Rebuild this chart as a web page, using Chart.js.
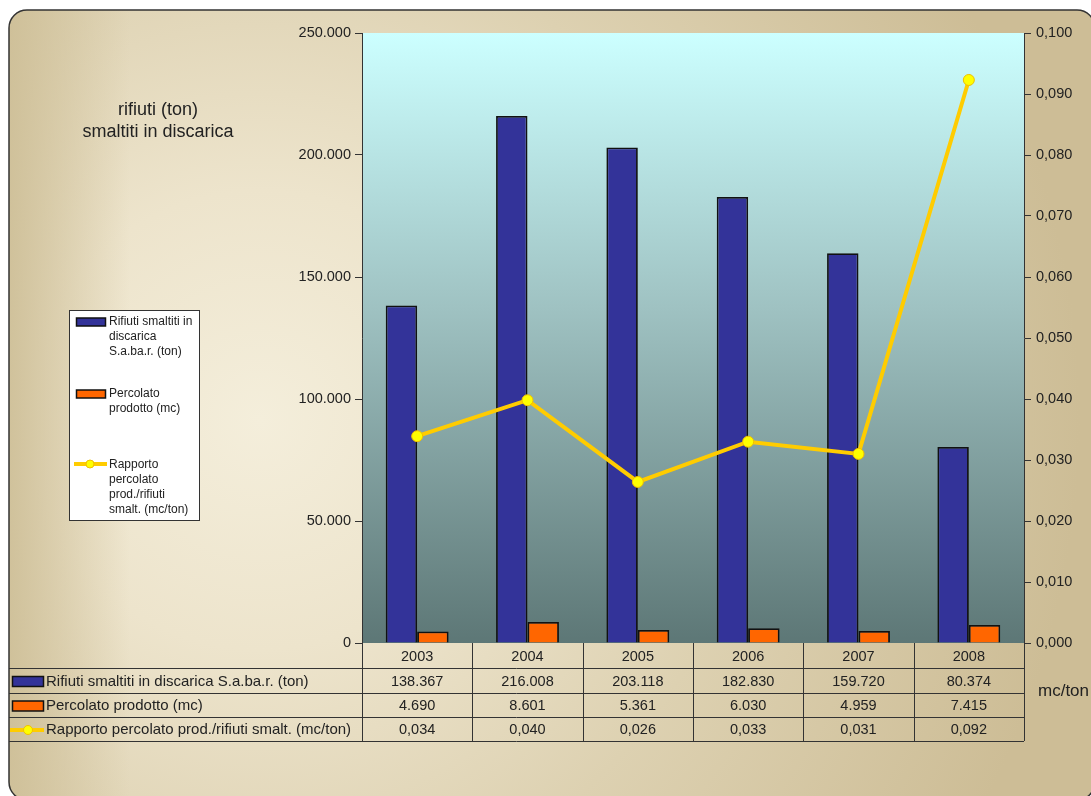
<!DOCTYPE html>
<html>
<head>
<meta charset="utf-8">
<script src="https://cdn.jsdelivr.net/npm/chart.js@4/dist/chart.umd.min.js"></script>
<style>
html,body{margin:0;padding:0;background:#fff;}
#wrap{position:relative;width:1091px;height:796px;}
</style>
</head>
<body>
<div id="wrap"><canvas id="c" width="1091" height="796"></canvas></div>
<script>
const years = ['2003','2004','2005','2006','2007','2008'];
const rifiuti = [138367, 216008, 203118, 182830, 159720, 80374];
const percolato = [4690, 8601, 5361, 6030, 4959, 7415];
const rapporto = [0.0339, 0.0398, 0.0264, 0.0330, 0.0310, 0.0923];
const rapportoLabels = ['0,034','0,040','0,026','0,033','0,031','0,092'];
const seriesNames = ['Rifiuti smaltiti in discarica S.a.ba.r. (ton)', 'Percolato prodotto (mc)', 'Rapporto percolato prod./rifiuti smalt. (mc/ton)'];
const legendLines = [['Rifiuti smaltiti in','discarica','S.a.ba.r. (ton)'], ['Percolato','prodotto (mc)'], ['Rapporto','percolato','prod./rifiuti','smalt. (mc/ton)']];
const leftTitle = ['rifiuti (ton)', 'smaltiti in discarica'];
const rightTitle = 'mc/ton';

const FONT = '"Liberation Sans", Arial, sans-serif';
const BLUE = '#333399', ORANGE = '#ff6600', LINE = '#ffcc00', POINT = '#ffff00', POINTEDGE = '#f0c000';

function fmtThousands(v){ return Math.round(v).toString().replace(/\B(?=(\d{3})+(?!\d))/g, '.'); }
function fmtDec(v){ return v.toFixed(3).replace('.', ','); }

const bgPlugin = {
  id: 'bg',
  beforeDraw(chart){
    const ctx = chart.ctx, a = chart.chartArea;
    ctx.save();
    ctx.fillStyle = '#ffffff';
    ctx.fillRect(0,0,chart.width,chart.height);
    const g = ctx.createRadialGradient(260, 420, 0, 260, 420, 820);
    g.addColorStop(0, '#f4eedb');
    g.addColorStop(0.28, '#ede4cc');
    g.addColorStop(0.6, '#ddd1b1');
    g.addColorStop(1, '#cdbd96');
    ctx.beginPath();
    ctx.roundRect(9, 10, 1086, 790, 18);
    ctx.fillStyle = g;
    ctx.fill();
    // darker left edge
    ctx.save();
    ctx.clip();
    const lg = ctx.createLinearGradient(9, 0, 130, 0);
    lg.addColorStop(0, 'rgba(205,190,150,0.9)');
    lg.addColorStop(1, 'rgba(205,190,150,0)');
    ctx.fillStyle = lg;
    ctx.fillRect(9, 10, 125, 790);
    ctx.restore();
    ctx.beginPath();
    ctx.roundRect(9, 10, 1086, 790, 18);
    ctx.lineWidth = 1.5;
    ctx.strokeStyle = '#333';
    ctx.stroke();
    const pg = ctx.createLinearGradient(0, a.top, 0, a.bottom);
    pg.addColorStop(0, '#ccffff');
    pg.addColorStop(0.45, '#9fc2c2');
    pg.addColorStop(1, '#5d7776');
    ctx.fillStyle = pg;
    ctx.fillRect(a.left, a.top, a.right - a.left, a.bottom - a.top);
    ctx.restore();
  },
  afterDraw(chart){
    const ctx = chart.ctx, a = chart.chartArea;
    const xs = chart.scales.x;
    ctx.save();
    ctx.fillStyle = '#222';
    ctx.font = '18px ' + FONT;
    ctx.textAlign = 'center';
    ctx.textBaseline = 'middle';
    ctx.fillText(leftTitle[0], 158, 110);
    ctx.fillText(leftTitle[1], 158, 132);
    ctx.font = '17px ' + FONT;
    ctx.textAlign = 'left';
    ctx.fillText(rightTitle, 1038, 691);

    const rowsY = [a.bottom, 668, 693, 717, 741];
    const tblLeft = 9;
    ctx.strokeStyle = '#333';
    ctx.lineWidth = 1;
    for (let r = 1; r < rowsY.length; r++) {
      ctx.beginPath();
      ctx.moveTo(tblLeft, rowsY[r] + 0.5);
      ctx.lineTo(a.right, rowsY[r] + 0.5);
      ctx.stroke();
    }
    const colW = (a.right - a.left) / years.length;
    for (let i = 0; i <= years.length; i++) {
      const x = Math.round(a.left + i * colW) + 0.5;
      ctx.beginPath();
      ctx.moveTo(x, a.bottom);
      ctx.lineTo(x, rowsY[4]);
      ctx.stroke();
    }
    ctx.font = '14.5px ' + FONT;
    ctx.fillStyle = '#222';
    ctx.textAlign = 'center';
    const rowVals = [years, rifiuti.map(fmtThousands), percolato.map(fmtThousands), rapportoLabels];
    for (let r = 0; r < 4; r++) {
      const cy = (rowsY[r] + rowsY[r + 1]) / 2 + 1;
      rowVals[r].forEach((v, i) => {
        ctx.fillText(v, xs.getPixelForValue(i), cy);
      });
    }
    ctx.font = '15px ' + FONT;
    ctx.textAlign = 'left';
    const keys = [BLUE, ORANGE, null];
    for (let r = 1; r < 4; r++) {
      const cy = (rowsY[r] + rowsY[r + 1]) / 2 + 1;
      if (keys[r - 1]) {
        ctx.fillStyle = keys[r - 1];
        ctx.fillRect(12, cy - 5, 31, 10);
        ctx.strokeStyle = '#111';
        ctx.lineWidth = 1.5;
        ctx.strokeRect(12.5, cy - 5, 31, 10);
      } else {
        ctx.strokeStyle = LINE;
        ctx.lineWidth = 4;
        ctx.beginPath(); ctx.moveTo(10, cy); ctx.lineTo(44, cy); ctx.stroke();
        ctx.beginPath(); ctx.arc(28, cy, 4.5, 0, Math.PI * 2);
        ctx.fillStyle = POINT; ctx.fill();
        ctx.lineWidth = 1; ctx.strokeStyle = POINTEDGE; ctx.stroke();
      }
      ctx.fillStyle = '#222';
      ctx.fillText(seriesNames[r - 1], 46, cy);
    }

    ctx.fillStyle = '#ffffff';
    ctx.fillRect(69, 310, 130, 210);
    ctx.strokeStyle = '#333';
    ctx.lineWidth = 1;
    ctx.strokeRect(69.5, 310.5, 130, 210);
    ctx.font = '12px ' + FONT;
    ctx.textAlign = 'left';
    const legY = [322, 394, 465];
    for (let k = 0; k < 3; k++) {
      const y0 = legY[k];
      if (k < 2) {
        ctx.fillStyle = k === 0 ? BLUE : ORANGE;
        ctx.fillRect(76, y0 - 4, 29, 8);
        ctx.strokeStyle = '#111';
        ctx.lineWidth = 1.5;
        ctx.strokeRect(76.5, y0 - 4, 29, 8);
      } else {
        ctx.strokeStyle = LINE;
        ctx.lineWidth = 4;
        ctx.beginPath(); ctx.moveTo(74, y0 - 1); ctx.lineTo(107, y0 - 1); ctx.stroke();
        ctx.beginPath(); ctx.arc(90, y0 - 1, 4, 0, Math.PI * 2);
        ctx.fillStyle = POINT; ctx.fill();
        ctx.lineWidth = 1; ctx.strokeStyle = POINTEDGE; ctx.stroke();
      }
      ctx.fillStyle = '#222';
      legendLines[k].forEach((t, j) => ctx.fillText(t, 109, y0 + j * 15));
    }
    ctx.restore();
  }
};

new Chart(document.getElementById('c'), {
  data: {
    labels: years,
    datasets: [
      { type: 'line', label: seriesNames[2], data: rapporto, yAxisID: 'y1', order: 0,
        borderColor: LINE, borderWidth: 4, pointRadius: 5.5, pointBackgroundColor: POINT,
        pointBorderColor: POINTEDGE, pointBorderWidth: 1, tension: 0 },
      { type: 'bar', label: seriesNames[0], data: rifiuti, yAxisID: 'y', order: 1,
        backgroundColor: BLUE, borderColor: '#111', borderWidth: 1.8,
        categoryPercentage: 0.57, barPercentage: 1.0 },
      { type: 'bar', label: seriesNames[1], data: percolato, yAxisID: 'y', order: 1,
        backgroundColor: ORANGE, borderColor: '#111', borderWidth: 1.8,
        categoryPercentage: 0.57, barPercentage: 1.0 }
    ]
  },
  options: {
    responsive: false,
    animation: false,
    layout: { padding: { top: 33, bottom: 153, left: 0, right: 0 } },
    plugins: { legend: { display: false }, tooltip: { enabled: false } },
    scales: {
      x: { type: 'category', display: false, offset: true },
      y: {
        position: 'left', min: 0, max: 250000,
        ticks: { stepSize: 50000, callback: v => fmtThousands(v), color: '#222', font: { family: FONT, size: 14.5 }, padding: 4 },
        grid: { drawOnChartArea: false, drawTicks: true, tickLength: 7, color: '#333' },
        border: { display: true, color: '#333', width: 1 },
        afterFit(s){ s.width = 362; }
      },
      y1: {
        position: 'right', min: 0, max: 0.1,
        ticks: { stepSize: 0.01, callback: v => fmtDec(v), color: '#222', font: { family: FONT, size: 14.5 }, padding: 5 },
        grid: { drawOnChartArea: false, drawTicks: true, tickLength: 7, color: '#333' },
        border: { display: true, color: '#333', width: 1 },
        afterFit(s){ s.width = 1091 - 1024; }
      }
    }
  },
  plugins: [bgPlugin]
});
</script>
</body>
</html>
